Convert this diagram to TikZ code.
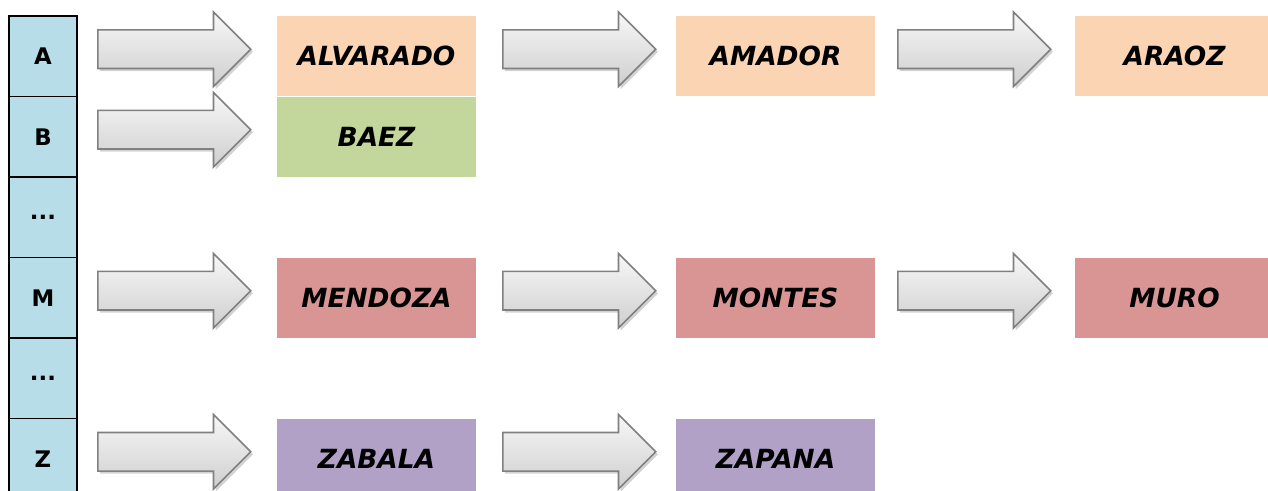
\documentclass[tikz,border=0pt]{standalone}
\usepackage{fontspec}
\usepackage{xcolor}
\usetikzlibrary{positioning,shapes.arrows,shadows}

\newfontfamily\idxfont{DejaVu Sans}
\newfontfamily\namefont{DejaVu Sans}

\definecolor{cellblue}{HTML}{B7DDE8}
\definecolor{peach}{HTML}{FBD4B4}
\definecolor{leaf}{HTML}{C3D69B}
\definecolor{rose}{HTML}{D99594}
\definecolor{lilac}{HTML}{B2A1C7}

\tikzset{
  idx/.style={draw, line width=1pt, fill=cellblue, minimum width=1.36cm,
    minimum height=1.61cm, inner sep=0pt, outer sep=0pt,
    font=\idxfont\bfseries\fontsize{13}{15}\selectfont},
  namebox/.style={minimum width=3.98cm, minimum height=1.6cm, inner sep=0pt,
    outer sep=0pt, font=\namefont\bfseries\itshape\fontsize{15}{18}\selectfont},
  blockarrow/.style={single arrow, minimum height=3.06cm, inner xsep=0pt,
    inner ysep=0.37cm, single arrow head extend=0.36cm,
    top color=gray!6, bottom color=gray!38, draw=black!50, line width=0.9pt,
    drop shadow={opacity=0.35, shadow xshift=1.2pt, shadow yshift=-1.5pt},
    yshift=0.14cm}
}

\begin{document}
\begin{tikzpicture}
    \useasboundingbox (0,0) rectangle (25.36,-9.82);

    % index column
    \node [idx, anchor=north west] (iA) at (0.18,-0.32) {A};
    \node [idx, below=0pt of iA] (iB) {B};
    \node [idx, below=0pt of iB] (iD1) {...};
    \node [idx, below=0pt of iD1] (iM) {M};
    \node [idx, below=0pt of iM] (iD2) {...};
    \node [idx, below=0pt of iD2] (iZ) {Z};

    % row A
    \node [blockarrow, right=0.4cm of iA] (arA1) {};
    \node [namebox, fill=peach, right=4cm of iA] (alvarado) {ALVARADO};
    \node [blockarrow, right=0.52cm of alvarado] (arA2) {};
    \node [namebox, fill=peach, right=4cm of alvarado] (amador) {AMADOR};
    \node [blockarrow, right=0.44cm of amador] (arA3) {};
    \node [namebox, fill=peach, right=4cm of amador] (araoz) {ARAOZ};

    % row B
    \node [blockarrow, right=0.4cm of iB] (arB1) {};
    \node [namebox, fill=leaf, right=4cm of iB] (baez) {BAEZ};

    % row M
    \node [blockarrow, right=0.4cm of iM] (arM1) {};
    \node [namebox, fill=rose, right=4cm of iM] (mendoza) {MENDOZA};
    \node [blockarrow, right=0.52cm of mendoza] (arM2) {};
    \node [namebox, fill=rose, right=4cm of mendoza] (montes) {MONTES};
    \node [blockarrow, right=0.44cm of montes] (arM3) {};
    \node [namebox, fill=rose, right=4cm of montes] (muro) {MURO};

    % row Z
    \node [blockarrow, right=0.4cm of iZ] (arZ1) {};
    \node [namebox, fill=lilac, right=4cm of iZ] (zabala) {ZABALA};
    \node [blockarrow, right=0.52cm of zabala] (arZ2) {};
    \node [namebox, fill=lilac, right=4cm of zabala] (zapana) {ZAPANA};

\end{tikzpicture}
\end{document}
